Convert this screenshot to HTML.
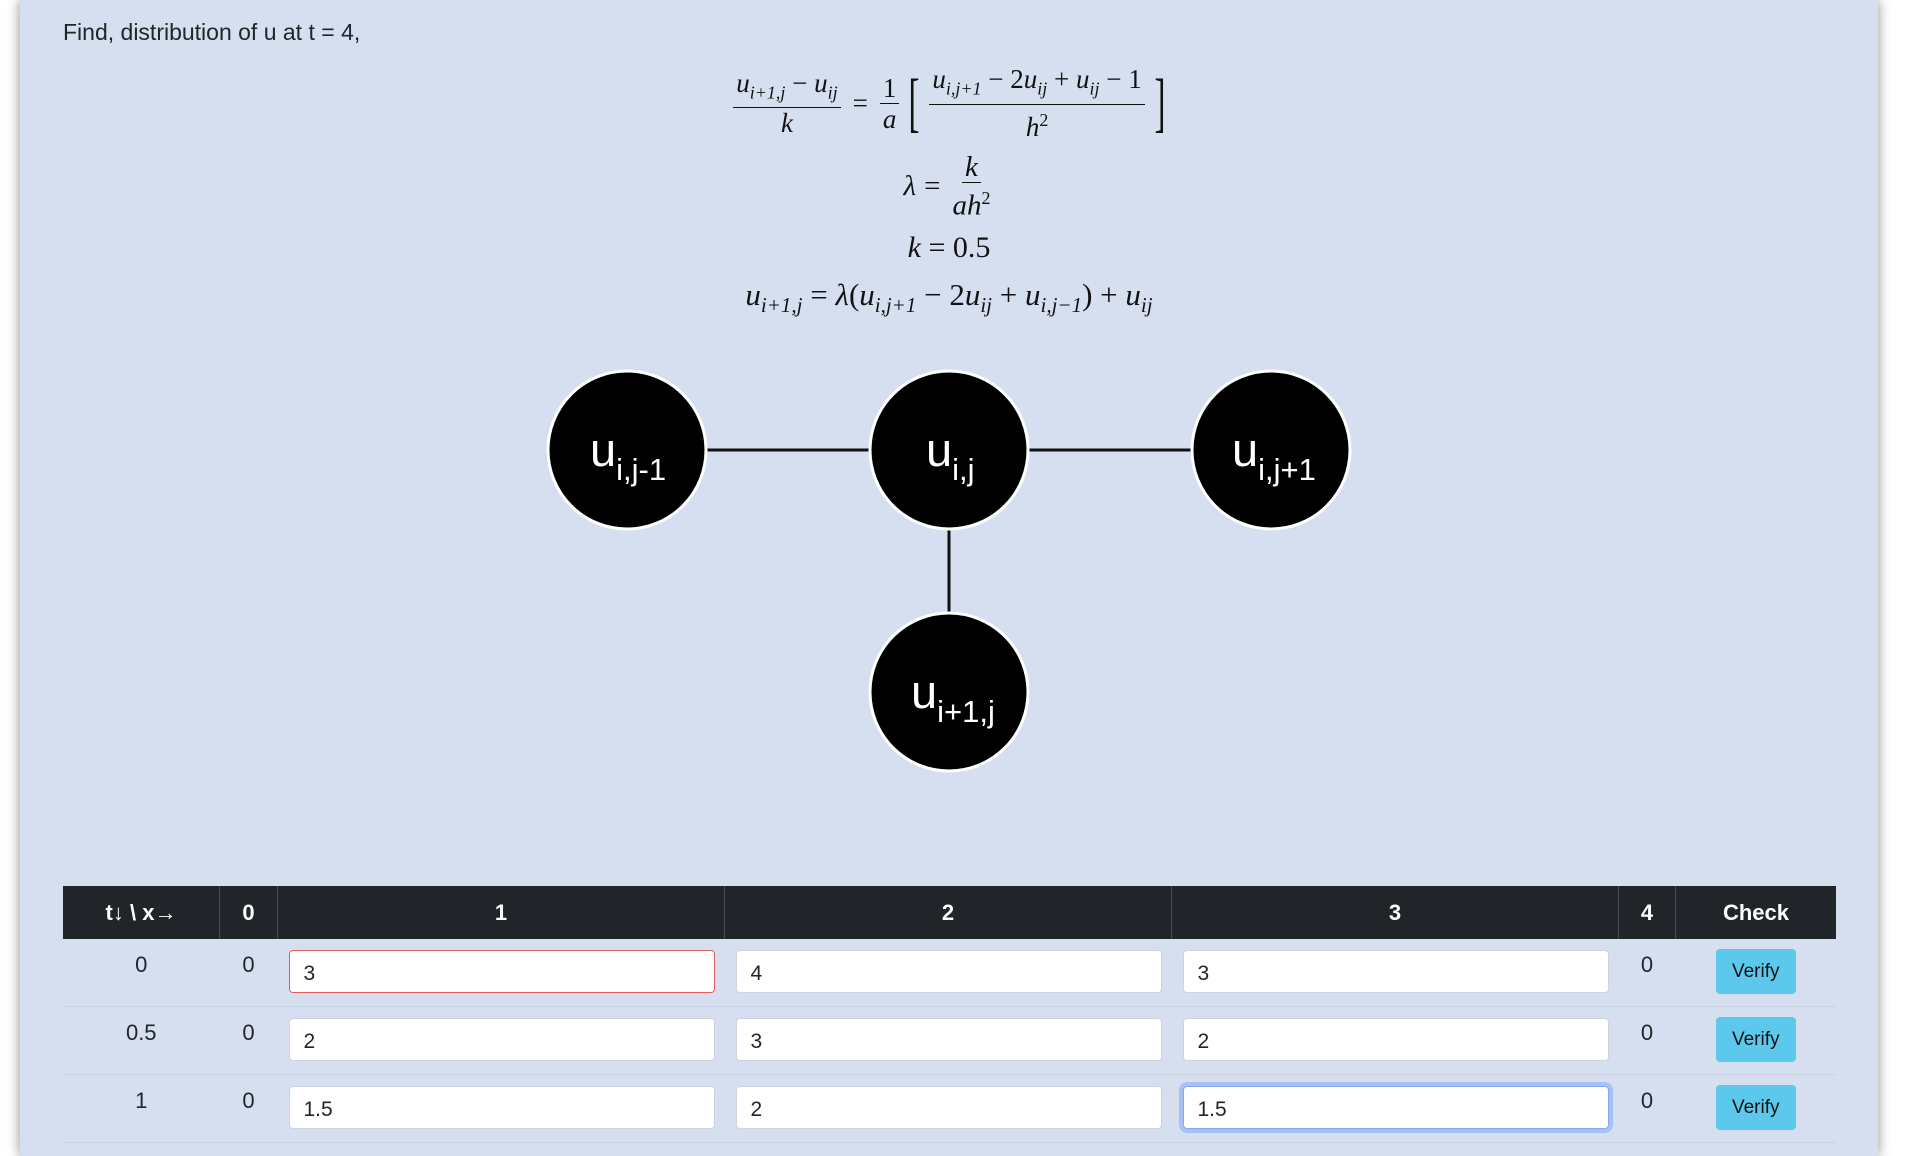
<!DOCTYPE html>
<html><head><meta charset="utf-8"><style>
body{margin:0;width:1932px;height:1156px;background:#fff;position:relative;overflow:hidden;font-family:"Liberation Sans",sans-serif;}
.panel{position:absolute;left:20px;top:0;width:1858px;height:1156px;background:#d6dff0;box-shadow:0 0 12px rgba(0,0,0,.45);}
.title{position:absolute;left:63px;top:19px;font-size:23px;color:#212529;}
.m{position:absolute;left:0;width:1932px;display:flex;justify-content:center;align-items:center;font-family:"Liberation Serif",serif;font-size:27px;color:#111;}
.i{font-style:italic}
.fr{display:inline-flex;flex-direction:column;align-items:center;margin:0 4px;}
.fr .n{padding:0 3px;border-bottom:1.5px solid #111;line-height:30px}
.fr .d{line-height:30px}
sub,sup{font-size:18px}
.br{font-size:66px;font-weight:100;line-height:60px;transform:scaleX(.5)}
svg{position:absolute;left:0;top:0}
table{position:absolute;left:63px;top:886px;width:1773px;border-collapse:collapse;font-size:22px;color:#212529;}
th{background:#212529;color:#fff;height:53px;font-weight:bold;border-left:1px solid #454d55;padding:0}
td{text-align:center;vertical-align:top;padding:0;height:67px;border-bottom:1px solid #c9d3e4}
td.v{padding-top:13px;height:54px}
.in{margin:11px 10px 0 11px;height:43px;background:#fff;border:1px solid #ced4da;border-radius:4px;text-align:left;line-height:45px;padding-left:14px;font-size:21px;box-sizing:border-box}
.red{border-color:#e35d5d}
.foc{border:1px solid #86a8f0;box-shadow:0 0 0 4px #a9c1f2}
.btn{display:inline-block;margin-top:10px;width:80px;height:45px;line-height:45px;background:#5bc8ec;border-radius:4px;font-size:19px;color:#111}
</style></head><body>
<div class="panel"></div>
<div class="title">Find, distribution of u at t = 4,</div>

<div class="m" style="top:72px;height:62px;left:-16px">
<span class="fr"><span class="n"><span class="i">u</span><sub class="i">i+1,j</sub> − <span class="i">u</span><sub class="i">ij</sub></span><span class="d i">k</span></span>
<span style="margin:0 8px">=</span>
<span class="fr"><span class="n">1</span><span class="d i">a</span></span>
<span class="br">[</span>
<span class="fr"><span class="n"><span class="i">u</span><sub class="i">i,j+1</sub> − 2<span class="i">u</span><sub class="i">ij</sub> + <span class="i">u</span><sub class="i">ij</sub> − 1</span><span class="d"><span class="i">h</span><sup>2</sup></span></span>
<span class="br">]</span>
</div>
<div class="m" style="top:155px;height:62px;left:-17px;font-size:29px"><span class="i">λ</span><span style="margin:0 8px">=</span><span class="fr"><span class="n i">k</span><span class="d"><span class="i">ah</span><sup>2</sup></span></span></div>
<div class="m" style="top:232px;height:32px;left:-17px;font-size:30px"><span><span class="i">k</span>&nbsp;=&nbsp;0.5</span></div>
<div class="m" style="top:280px;height:36px;left:-17px;font-size:31px"><span><span class="i">u</span><sub class="i" style="font-size:21px">i+1,j</sub>&nbsp;=&nbsp;<span class="i">λ</span>(<span class="i">u</span><sub class="i" style="font-size:21px">i,j+1</sub>&nbsp;−&nbsp;2<span class="i">u</span><sub class="i" style="font-size:21px">ij</sub>&nbsp;+&nbsp;<span class="i">u</span><sub class="i" style="font-size:21px">i,j−1</sub>)&nbsp;+&nbsp;<span class="i">u</span><sub class="i" style="font-size:21px">ij</sub></span></div>

<svg width="1932" height="1156">
<line x1="627" y1="450" x2="1271" y2="450" stroke="#111" stroke-width="3"/>
<line x1="949" y1="450" x2="949" y2="692" stroke="#111" stroke-width="3"/>
<g fill="#000" stroke="#fff" stroke-width="3">
<circle cx="627" cy="450" r="79"/><circle cx="949" cy="450" r="79"/><circle cx="1271" cy="450" r="79"/><circle cx="949" cy="692" r="79"/>
</g>
<g fill="#fff" font-family="Liberation Sans, sans-serif">
<text x="590" y="466" font-size="47">u<tspan font-size="31" dy="14">i,j-1</tspan></text>
<text x="926" y="466" font-size="47">u<tspan font-size="31" dy="14">i,j</tspan></text>
<text x="1232" y="466" font-size="47">u<tspan font-size="31" dy="14">i,j+1</tspan></text>
<text x="911" y="708" font-size="47">u<tspan font-size="31" dy="14">i+1,j</tspan></text>
</g>
</svg>

<table>
<tr><th style="width:156px;border-left:none">t↓ \ x→</th><th style="width:57px">0</th><th style="width:446px">1</th><th style="width:446px">2</th><th style="width:446px">3</th><th style="width:56px">4</th><th>Check</th></tr>
<tr><td class="v">0</td><td class="v">0</td><td><div class="in red">3</div></td><td><div class="in">4</div></td><td><div class="in">3</div></td><td class="v">0</td><td><span class="btn">Verify</span></td></tr>
<tr><td class="v">0.5</td><td class="v">0</td><td><div class="in">2</div></td><td><div class="in">3</div></td><td><div class="in">2</div></td><td class="v">0</td><td><span class="btn">Verify</span></td></tr>
<tr><td class="v">1</td><td class="v">0</td><td><div class="in">1.5</div></td><td><div class="in">2</div></td><td><div class="in foc">1.5</div></td><td class="v">0</td><td><span class="btn">Verify</span></td></tr>
</table>
</body></html>
